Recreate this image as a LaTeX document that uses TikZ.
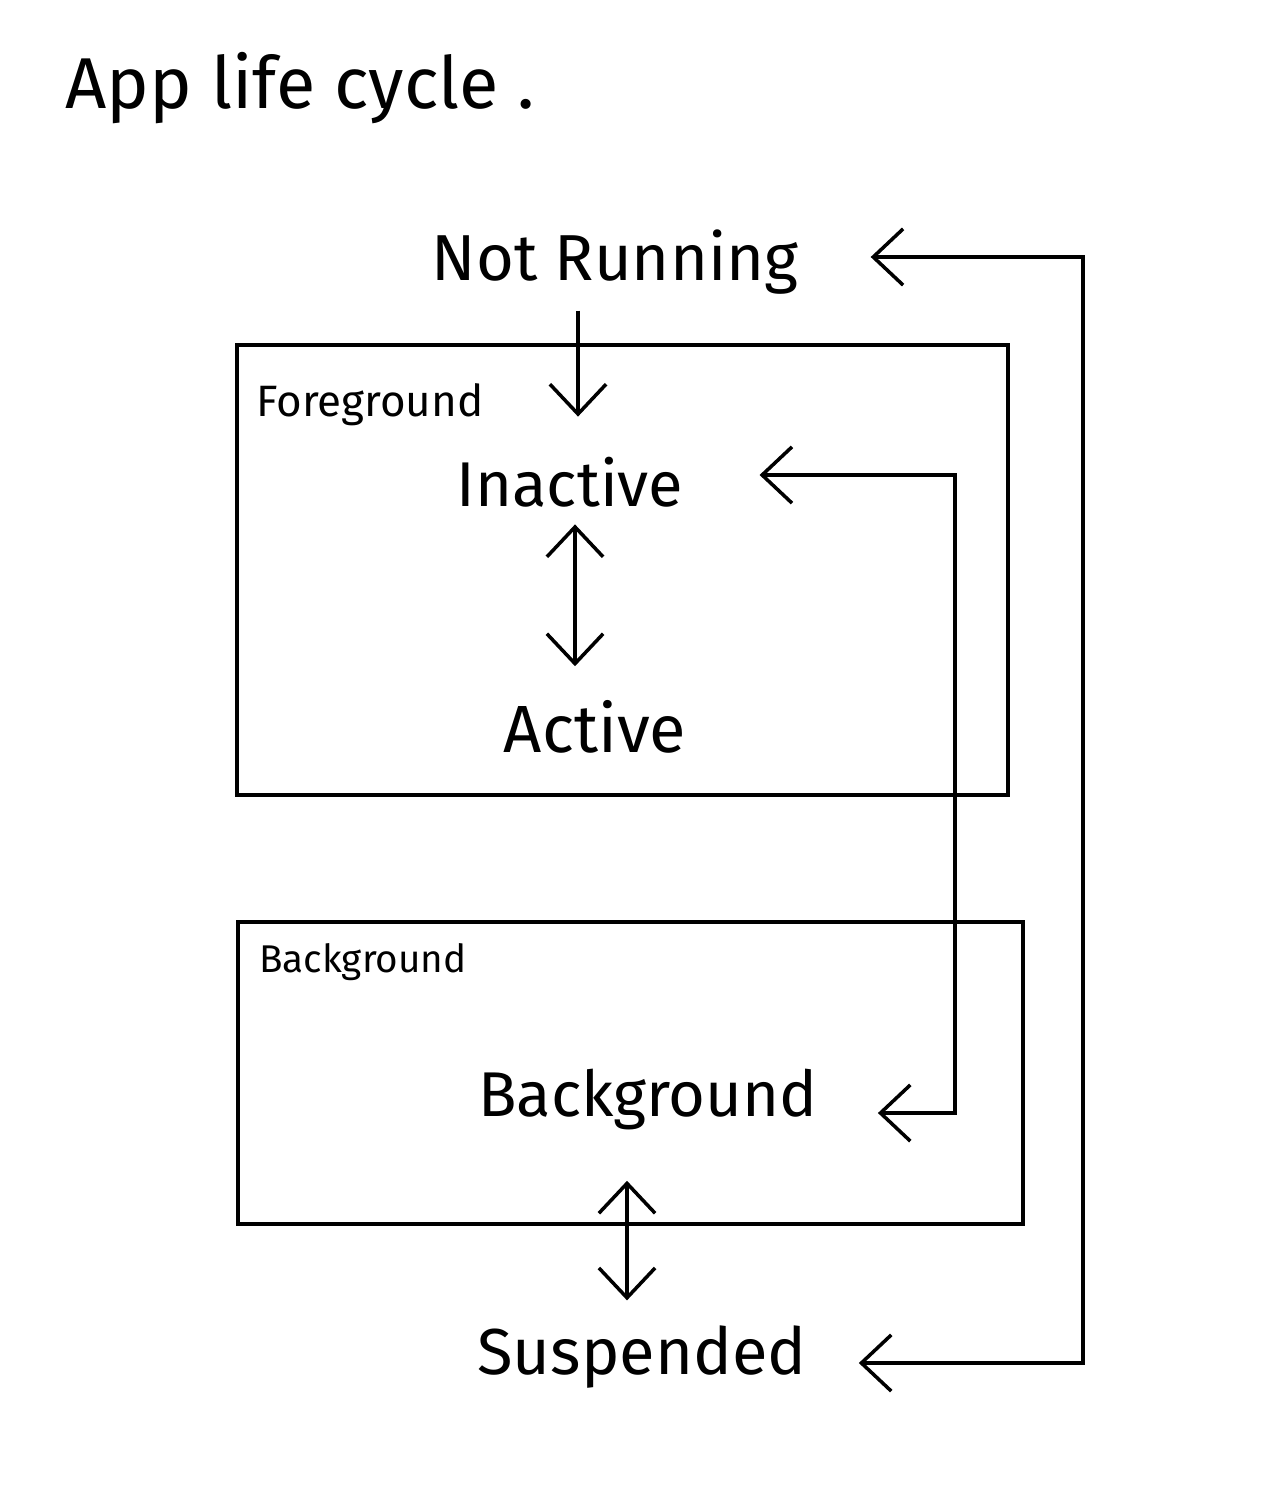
\documentclass[tikz,border=0pt]{standalone}
\usepackage{fontspec}
\setmainfont{Fira Sans}
\usetikzlibrary{arrows.meta,calc}
\tikzset{
  hand/.tip={Straight Barb[length=17pt,width=32pt]},
  lbl/.style={inner sep=0pt},
  frame/.style={draw, inner sep=0pt, line width=1.9pt},
  conn/.style={line width=2pt, line join=miter},
}
\newcommand{\fs}[1]{\fontsize{#1}{#1}\selectfont}
\begin{document}
\begin{tikzpicture}[x=0.02cm,y=-0.02cm]
\useasboundingbox (0,0) rectangle (1270,1486);
% frames
\node[frame, minimum width=15.42cm, minimum height=9cm] (fgbox) at (622.5,570) {};
\node[frame, minimum width=15.7cm, minimum height=6.04cm] (bgbox) at (630.5,1073) {};
% texts
\node[lbl, font=\fs{41}] (title) at (300,88) {App life cycle .};
\node[lbl, font=\fs{37}] (notrun) at (615,262) {Not Running};
\node[lbl, font=\fs{25}] (fglabel) at (370,405) {Foreground};
\node[lbl, font=\fs{36}] (inactive) at (570,482) {Inactive};
\node[lbl, font=\fs{38}] (active) at (595,727) {Active};
\node[lbl, font=\fs{22}] (bglabel) at (363,962) {Background};
\node[lbl, font=\fs{36}] (bigbg) at (648,1100) {Background};
\node[lbl, font=\fs{37}] (susp) at (642,1357) {Suspended};
% routing coordinates
\coordinate (r0) at (1083,257);
\coordinate (r1) at (955,475);
\coordinate (r2) at (955,1113);
\coordinate (r3) at (1083,1363);
% connectors
\draw[conn, -hand] ($(notrun.south)+(-37,16)$) -- ($(inactive.north)+(8,-40)$);
\draw[conn, hand-hand] ($(inactive.south)+(5,17)$) -- ($(inactive.south |- active.north)+(5,-34)$);
\draw[conn, hand-hand] ($(bigbg.south)+(-21,50)$) -- ($(bigbg.south |- susp.north)+(-21,-25)$);
\draw[conn, hand-hand] ($(inactive.east |- r1)+(76,0)$) -| (r2) -- ($(r2 -| bigbg.east)+(60,0)$);
\draw[conn, hand-hand] ($(notrun.east |- r0)+(72,0)$) -| (r3) -- ($(r3 -| susp.east)+(52,0)$);
\end{tikzpicture}
\end{document}
